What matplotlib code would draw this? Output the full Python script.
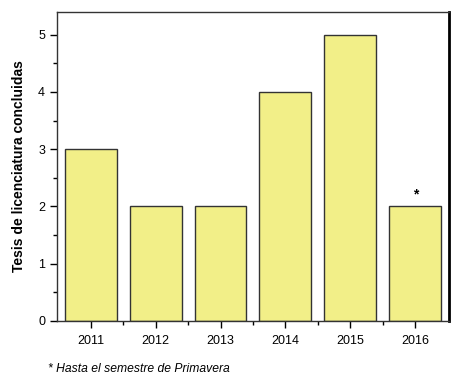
import matplotlib.pyplot as plt
from matplotlib.ticker import MultipleLocator, FixedLocator
import numpy as np

# data
years = ['2011', '2012', '2013', '2014', '2015', '2016']
tesis = [3, 2, 2, 4, 5, 2]
nota = '* Hasta el semestre de Primavera'

plt.rcParams['font.family'] = ['Liberation Sans', 'DejaVu Sans']

fig = plt.figure(figsize=(4.55, 3.82), dpi=100)
ax = fig.add_axes([0.125, 0.160, 0.862, 0.809])

x = np.arange(len(years))
ax.bar(x, tesis, width=0.8, color='#F2EF88', edgecolor='#333333', linewidth=1.0)

# asterisk on last (incomplete) year
ax.text(x[-1], tesis[-1] + 0.08, '*', ha='center', va='bottom', fontsize=10, fontweight='bold')

ax.set_xlim(-0.52, 5.52)
ax.set_ylim(0, 5.4)
ax.set_xticks(x)
ax.set_xticklabels(years, fontsize=9)
ax.xaxis.set_minor_locator(FixedLocator(x[:-1] + 0.5))
ax.yaxis.set_major_locator(MultipleLocator(1))
ax.yaxis.set_minor_locator(MultipleLocator(0.5))
ax.tick_params(axis='both', which='major', direction='out', length=5, width=1.0, labelsize=9)
ax.tick_params(axis='x', which='major', pad=5)
ax.tick_params(axis='both', which='minor', direction='out', length=3, width=1.0)
ax.tick_params(top=False, right=False)

ax.set_ylabel('Tesis de licenciatura concluidas', fontsize=10, fontweight='bold', labelpad=9)

for s in ['left', 'bottom', 'top']:
    ax.spines[s].set_linewidth(1.0)
    ax.spines[s].set_color('#333333')
ax.spines['right'].set_linewidth(2.0)
ax.spines['right'].set_color('black')

fig.text(0.105, 0.025, nota, fontsize=8.7, style='italic')

fig.savefig('out.png', dpi=100)
